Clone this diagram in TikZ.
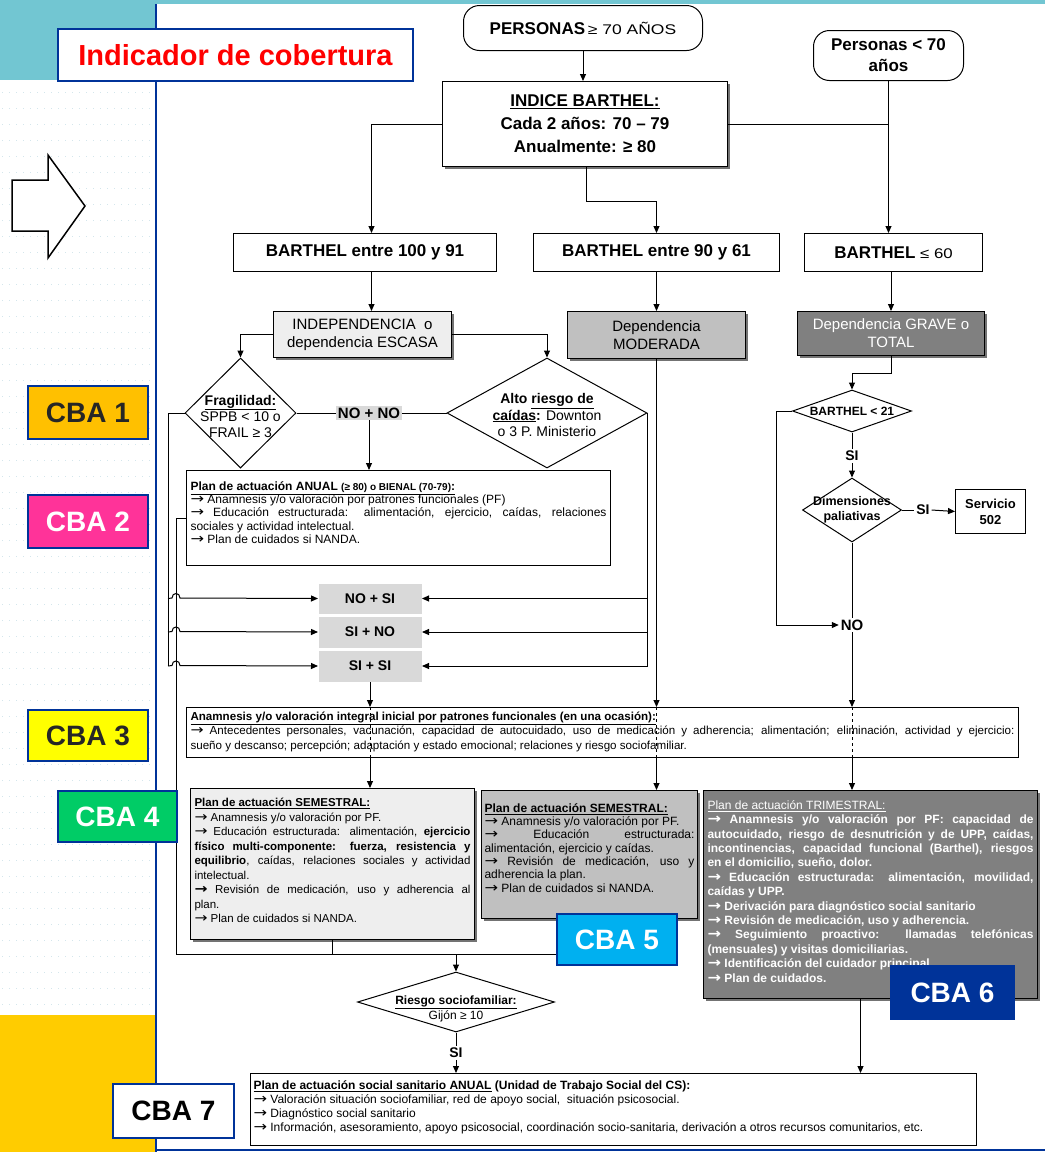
\documentclass[tikz,border=0pt]{standalone}
\usepackage{fontspec}
\usepackage{graphicx}
\setmainfont{Liberation Sans}
\newfontfamily\arrfont{DejaVu Sans}
\usetikzlibrary{arrows.meta,shapes.geometric,shadows}
\definecolor{tealbg}{RGB}{114,198,210}
\definecolor{goldbg}{RGB}{255,204,0}
\definecolor{navyb}{RGB}{0,51,153}
\definecolor{dotc}{RGB}{212,230,236}
\definecolor{gA}{RGB}{238,238,238}
\definecolor{gB}{RGB}{192,192,192}
\definecolor{gC}{RGB}{128,128,128}
\definecolor{gD}{RGB}{217,217,217}
\definecolor{cbaA}{RGB}{255,192,0}
\definecolor{cbaB}{RGB}{255,51,153}
\definecolor{cbaC}{RGB}{255,255,0}
\definecolor{cbaD}{RGB}{0,204,102}
\definecolor{cbaE}{RGB}{0,176,240}
\definecolor{darktxt}{RGB}{38,38,38}
\newcommand\fs[2]{\fontsize{#1}{#2}\selectfont}
\newcommand\tbx[3]{\parbox[c][#2pt][t]{#1pt}{#3}}
\newcommand\ra{\scalebox{1.35}[1.15]{\arrfont →}}
\begin{document}
\begin{tikzpicture}[x=1pt,y=-1pt,line width=1pt,
  arr/.style={-{Triangle[length=7pt,width=6pt]}},
  bx/.style={draw,line width=1pt,inner sep=0pt,anchor=north west},
  shd/.style={drop shadow={shadow xshift=2pt,shadow yshift=-2pt,fill=black!55,opacity=1}},
  dia/.style={diamond,draw,line width=1pt,inner sep=0pt},
  lbl/.style={inner sep=1.5pt,font=\fs{14}{16}\bfseries},
  cba/.style={draw=navyb,line width=2pt,inner sep=0pt,anchor=north west,minimum width=120pt,minimum height=53pt,font=\fs{28}{30}\bfseries},
  hd/.style={font=\fs{17}{22}\bfseries,align=center}]
% background
\fill[white] (0,0) rectangle (1045,1152);
\useasboundingbox (0,0) rectangle (1045,1152);
\fill[tealbg] (0,0) rectangle (156,80);
\fill[tealbg] (0,0) rectangle (1045,4);
\fill[goldbg] (0,1015) rectangle (156,1152);
\foreach \yy in {92,108,...,1004} \draw[dotc,line width=1pt,dash pattern=on 1pt off 6pt] (2,\yy) -- (152,\yy);
\draw[navyb,line width=2pt] (156,4) -- (156,1152);
\draw[navyb,line width=2pt] (156,1150) -- (1045,1150);
% top nodes
\node[bx,rounded corners=16pt,minimum width=239pt,minimum height=45pt] (pers) at (463,5) {{\fs{17}{20}\bfseries PERSONAS}\ {\fs{14}{20}\addfontfeature{FakeStretch=1.25}≥ 70 AÑOS}};
\node[bx,rounded corners=16pt,minimum width=150pt,minimum height=50pt,hd,font=\fs{17}{21}\bfseries] (pers70b) at (813,30) {Personas < 70\\años};
\node[bx,shd,fill=white,minimum width=285pt,minimum height=85pt,font=\fs{17}{23}\bfseries,align=center] (indice) at (442,81) {\underline{INDICE BARTHEL:}\\Cada 2 años: 70 – 79\\Anualmente: ≥ 80};
\node[bx,minimum width=263pt,minimum height=38pt,hd] (b1) at (233,233) {BARTHEL entre 100 y 91};
\node[bx,minimum width=246pt,minimum height=38pt,hd] (b2) at (533,233) {BARTHEL entre 90 y 61};
\node[bx,minimum width=178pt,minimum height=38pt,hd] (b3) at (804,233) {BARTHEL {\fs{14}{17}\mdseries\addfontfeature{FakeStretch=1.2}≤ 60}};
\node[bx,shd,fill=gA,minimum width=178pt,minimum height=46pt,font=\fs{15}{18},align=center] (indep) at (273,311) {INDEPENDENCIA~ o\\dependencia ESCASA};
\node[bx,shd,fill=gB,minimum width=178pt,minimum height=47pt,font=\fs{15}{18},align=center] (moder) at (567,311) {Dependencia\\MODERADA};
\node[bx,shd,fill=gC,text=white,minimum width=187pt,minimum height=44pt,font=\fs{15}{18},align=center] (grave) at (797,311) {Dependencia GRAVE o\\TOTAL};
% diamonds left
\node[dia,minimum width=111pt,minimum height=110pt] (frag) at (240.5,413) {};
\node[font=\fs{14}{16},align=center,inner sep=0pt] (fragt) at (240.5,416) {{\bfseries\underline{Fragilidad:}}\\SPPB < 10 o\\FRAIL ≥ 3};
\node[dia,minimum width=200pt,minimum height=110pt] (alto) at (547,413) {};
\node[font=\fs{14}{16.5},align=center,inner sep=0pt] (altot) at (547,415) {{\bfseries Alto \underline{riesgo de}}\\{\bfseries\underline{caídas}:} Downton\\o 3 P. Ministerio};
\node[fill=gD,inner sep=1.5pt,font=\fs{15}{17}\bfseries] (nono) at (369,413) {NO + NO};
\node[bx,fill=white,minimum width=424pt,minimum height=95pt,font=\fs{12}{13.3}] (anual) at (186,470) {\tbx{416}{73}{\textbf{\underline{Plan de actuación ANUAL {\fs{10}{13.3}(≥ 80) o BIENAL (70-79)}:}}\par
\ra{} Anamnesis y/o valoración por patrones funcionales (PF)\par
\ra{} Educación estructurada: alimentación, ejercicio, caídas, relaciones\linebreak sociales y actividad intelectual.\par
\ra{} Plan de cuidados si NANDA.}};
\node[bx,draw=none,fill=gD,minimum width=103pt,minimum height=30pt,font=\fs{14}{16}\bfseries] (nosi) at (318,583) {NO + SI};
\node[bx,draw=none,fill=gD,minimum width=103pt,minimum height=31pt,font=\fs{14}{16}\bfseries] (sino) at (318,616) {SI + NO};
\node[bx,draw=none,fill=gD,minimum width=103pt,minimum height=31pt,font=\fs{14}{16}\bfseries] (sisi) at (318,650) {SI + SI};
% right branch
\node[dia,minimum width=119pt,minimum height=42pt] (b21) at (852,411) {};
\node[font=\fs{12}{14}\bfseries,inner sep=0pt] (b21t) at (852,411) {BARTHEL < 21};
\node[lbl] (si1) at (852,456) {SI};
\node[dia,minimum width=99pt,minimum height=64pt] (dim) at (852,510) {};
\node[font=\fs{12.5}{15}\bfseries,align=center,inner sep=0pt] (dimt) at (852,510) {Dimensiones\\paliativas};
\node[lbl] (si2) at (923,510) {SI};
\node[bx,minimum width=70pt,minimum height=44pt,font=\fs{13}{16}\bfseries,align=center] (serv) at (955,489) {Servicio\\502};
\node[lbl,font=\fs{15}{17}\bfseries] (no1) at (852,625) {NO};
% lower boxes
\node[bx,fill=white,minimum width=832pt,minimum height=50pt,font=\fs{11.6}{14.5}] (anam) at (186,707) {\tbx{824}{42}{\textbf{\underline{Anamnesis y/o valoración integral inicial por patrones funcionales (en una ocasión):}}\par
\ra{} Antecedentes personales, vacunación, capacidad de autocuidado, uso de medicación y adherencia; alimentación; eliminación, actividad y ejercicio:\linebreak sueño y descanso; percepción; adaptación y estado emocional; relaciones y riesgo sociofamiliar.}};
\node[bx,shd,fill=gA,minimum width=284pt,minimum height=151pt,font=\fs{11.5}{14.5}] (sem1) at (190,788) {\tbx{276}{131}{\textbf{\underline{Plan de actuación SEMESTRAL:}}\par
\ra{} Anamnesis y/o valoración por PF.\par
\ra{} Educación estructurada: alimentación, \textbf{ejercicio}\linebreak \textbf{físico multi-componente: fuerza, resistencia y}\linebreak \textbf{equilibrio}, caídas, relaciones sociales y actividad\linebreak intelectual.\par
\textbf{\ra{}} Revisión de medicación, uso y adherencia al\linebreak plan.\par
\ra{} Plan de cuidados si NANDA.}};
\node[bx,shd,fill=gB,minimum width=216pt,minimum height=128pt,font=\fs{12}{13.3}] (sem2) at (481,790) {\tbx{210}{102}{\textbf{\underline{Plan de actuación SEMESTRAL:}}\par
\ra{} Anamnesis y/o valoración por PF.\par
\ra{} Educación estructurada:\linebreak alimentación, ejercicio y caídas.\par
\ra{} Revisión de medicación, uso y\linebreak adherencia la plan.\par
\ra{} Plan de cuidados si NANDA.}};
\node[bx,shd,fill=gC,text=white,minimum width=334pt,minimum height=208pt,font=\fs{12}{14.4}\bfseries] (trim) at (703,790) {\tbx{326}{188}{{\mdseries\underline{Plan de actuación TRIMESTRAL:}}\par
\ra{} Anamnesis y/o valoración por PF: capacidad de\linebreak autocuidado, riesgo de desnutrición y de UPP, caídas,\linebreak incontinencias, capacidad funcional (Barthel), riesgos\linebreak en el domicilio, sueño, dolor.\par
\ra{} Educación estructurada: alimentación, movilidad,\linebreak caídas y UPP.\par
\ra{} Derivación para diagnóstico social sanitario\par
\ra{} Revisión de medicación, uso y adherencia.\par
\ra{} Seguimiento proactivo: llamadas telefónicas\linebreak (mensuales) y visitas domiciliarias.\par
\ra{} Identificación del cuidador principal\par
\ra{} Plan de cuidados.}};
\node[dia,fill=white,minimum width=197pt,minimum height=60pt] (riesgo) at (456,1002) {};
\node[font=\fs{12}{15},align=center,inner sep=0pt] (riesgot) at (456,1009) {\textbf{\underline{Riesgo sociofamiliar:}}\\Gijón ≥ 10};
\node[lbl] (si3) at (456,1053) {SI};
\node[bx,fill=white,minimum width=726pt,minimum height=72pt,font=\fs{12}{14}] (social) at (250,1073) {\tbx{720}{58}{\textbf{\underline{Plan de actuación social sanitario ANUAL} (Unidad de Trabajo Social del CS):}\par
\ra{} Valoración situación sociofamiliar, red de apoyo social,~ situación psicosocial.\par
\ra{} Diagnóstico social sanitario\par
\ra{} Información, asesoramiento, apoyo psicosocial, coordinación socio-sanitaria, derivación a otros recursos comunitarios, etc.}};
% connectors top
\draw[arr] (pers.south) -- (pers.south |- indice.north);
\draw[arr] (indice.west) -| ([xshift=6.5pt]b1.north);
\draw (indice.east) -- (indice.east -| pers70b.south);
\draw[arr] (pers70b.south) -- (pers70b.south |- b3.north);
\draw[arr] ([xshift=1.5pt]indice.south) -- ++(0,34) -| (b2.north);
\draw[arr] ([xshift=6.5pt]b1.south) -- ([xshift=6.5pt]b1.south |- indep.north);
\draw[arr] (b2.south) -- (b2.south |- moder.north);
\draw[arr] (grave.north |- b3.south) -- (grave.north);
\draw[arr] (indep.west) -| (frag.north);
\draw[arr] (indep.east) -| (alto.north);
\draw (frag.east) -- (nono.west);
\draw (nono.east) -- (alto.west);
\draw[arr] (nono.south) -- (nono.south |- anual.north);
% left loop
\coordinate (fl) at (168,0);
\draw (frag.west) -| (fl |- sisi.west);
\foreach \b/\yy in {nosi/598,sino/631.5,sisi/665.5}
  \draw[arr] (fl |- \b.west) -- (172,\yy) .. controls (172,\yy-6) and (180,\yy-6) .. (180,\yy) -- (\b.west);
% right loop
\draw (alto.east) -- (alto.east |- sisi.east);
\foreach \b in {nosi,sino,sisi} \draw[arr] (alto.east |- \b.east) -- (\b.east);
\draw[arr] (moder.south) -- (moder.south |- anam.north);
\draw[arr] (sisi.south) -- (sisi.south |- anam.north);
% grave branch
\draw[arr] (grave.south) -- ++(0,17) -| (b21.north);
\coordinate (gl) at (776,0);
\draw[arr] (b21.west) -| (gl |- no1.west) -- (no1.west);
\draw (b21.south) -- (si1.north);
\draw[arr] (si1.south) -- (dim.north);
\draw (dim.east) -- (si2.west);
\draw[arr] (si2.east) -- (serv.west);
\draw (dim.south) -- (no1.north);
\draw[arr] (no1.south) -- (no1.south |- anam.north);
% through anamnesis
\foreach \n in {sisi,moder,no1} \draw[dashed,line width=0.6pt] (\n.south |- anam.north) -- (\n.south |- anam.south);
\draw[arr] (sisi.south |- anam.south) -- (sisi.south |- sem1.north);
\draw[arr] (moder.south |- anam.south) -- (moder.south |- sem2.north);
\draw[arr] (no1.south |- anam.south) -- (no1.south |- trim.north);
% bottom
\coordinate (jL) at (176,954);
\draw (anual.west) -| (jL) -- (jL -| sem2.south);
\draw (sem1.south) -- (sem1.south |- jL);
\draw (sem2.south) -- (sem2.south |- jL);
\draw[arr] (riesgo.north |- jL) -- (riesgo.north);
\draw (riesgo.south) -- (si3.north);
\draw[arr] (si3.south) -- (si3.south |- social.north);
\draw[arr] ([xshift=-10pt]trim.south) -- ([xshift=-10pt]trim.south |- social.north);
% left panel labels
\node[bx,draw=navyb,line width=2pt,fill=white,minimum width=355pt,minimum height=52pt,text=red,font=\fs{29}{32}\bfseries] (indic) at (57,28) {Indicador de cobertura};
\draw[line width=1.5pt,fill=white] (12,180) -- (48,180) -- (48,155) -- (85,206) -- (48,258) -- (48,231) -- (12,231) -- cycle;
\node[cba,fill=cbaA,text=darktxt] (c1) at (27,385) {CBA 1};
\node[cba,fill=cbaB,text=white] (c2) at (27,494) {CBA 2};
\node[cba,fill=cbaC,text=darktxt,minimum height=51pt] (c3) at (27,709) {CBA 3};
\node[cba,fill=cbaD,text=white,minimum width=119pt,minimum height=51pt] (c4) at (57,790) {CBA 4};
\node[cba,fill=cbaE,text=white,minimum height=51pt] (c5) at (556,913) {CBA 5};
\node[cba,fill=navyb,text=white,minimum width=123pt] (c6) at (890,965) {CBA 6};
\node[cba,fill=white,text=black,minimum width=121pt,minimum height=54pt] (c7) at (112,1083) {CBA 7};
\end{tikzpicture}
\end{document}
